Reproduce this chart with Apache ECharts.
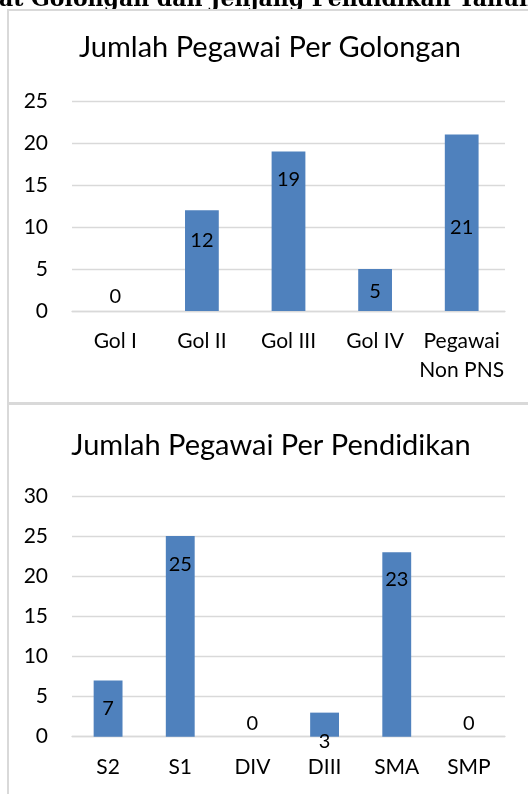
<!DOCTYPE html>
<html>
<head>
<meta charset="utf-8">
<script src="https://cdn.jsdelivr.net/npm/echarts@6/dist/echarts.min.js"></script>
<style>
html,body{margin:0;padding:0;background:#fff;}
#c{width:528px;height:794px;}
</style>
</head>
<body>
<div id="c"></div>
<script>
// ---- data ----
var headerText = 'at Golongan dan Jenjang Pendidikan Tahun';
var title1 = 'Jumlah Pegawai Per Golongan';
var categories1 = ['Gol I', 'Gol II', 'Gol III', 'Gol IV', 'Pegawai\nNon PNS'];
var values1 = [0, 12, 19, 5, 21];
var title2 = 'Jumlah Pegawai Per Pendidikan';
var categories2 = ['S2', 'S1', 'DIV', 'DIII', 'SMA', 'SMP'];
var values2 = [7, 25, 0, 3, 23, 0];
var yMax1 = 25, yMax2 = 30, yStep = 5;

// ---- label placement (style, px from bar top to label centre) ----
var labelShift1 = [-14, 30, 28, 23, 93];
var labelShift2 = [28, 28, -13, 29, 27, -13];

var FONT = 'Lato';
var BLUE = '#4f81bd';
var GRID = '#d9d9d9';

function items(vals, shifts) {
  return vals.map(function (v, i) {
    return {
      value: v,
      label: { offset: [0, shifts[i]] }
    };
  });
}

var labelBase = {
  show: true,
  position: 'insideTop',
  distance: 0,
  verticalAlign: 'middle',
  align: 'center',
  color: '#000',
  fontFamily: FONT,
  fontSize: 20
};

var chart = echarts.init(document.getElementById('c'), null, { renderer: 'canvas' });
chart.setOption({
  animation: false,
  backgroundColor: '#fff',
  graphic: [
    { type: 'text', x: -1, y: 11, style: { text: headerText, fill: '#000', font: 'bold 22px "DejaVu Serif"', textAlign: 'left', textVerticalAlign: 'bottom' } },
    { type: 'rect', shape: { x: 7, y: 9, width: 2, height: 785 }, style: { fill: GRID } },
    { type: 'rect', shape: { x: 7, y: 9, width: 521, height: 2 }, style: { fill: GRID } },
    { type: 'rect', shape: { x: 7, y: 402, width: 521, height: 3 }, style: { fill: GRID } },
    { type: 'text', x: 270, y: 48, style: { text: title1, fill: '#000', font: '29px Lato', textAlign: 'center', textVerticalAlign: 'middle' } },
    { type: 'text', x: 271, y: 446, style: { text: title2, fill: '#000', font: '29px Lato', textAlign: 'center', textVerticalAlign: 'middle' } }
  ],
  grid: [
    { left: 72, width: 433, top: 101, height: 210 },
    { left: 72, width: 433, top: 496, height: 240.7 }
  ],
  xAxis: [0, 1].map(function (i) {
    return {
      type: 'category',
      gridIndex: i,
      data: i === 0 ? categories1 : categories2,
      axisTick: { show: false },
      axisLine: { show: true, lineStyle: { color: GRID, width: 1.3 } },
      axisLabel: { color: '#000', fontFamily: FONT, fontSize: 21, lineHeight: 29, margin: 16, interval: 0 }
    };
  }),
  yAxis: [0, 1].map(function (i) {
    return {
      type: 'value',
      gridIndex: i,
      min: 0,
      max: i === 0 ? yMax1 : yMax2,
      interval: yStep,
      axisLine: { show: false },
      axisTick: { show: false },
      splitLine: { lineStyle: { color: GRID, width: 1.3 } },
      axisLabel: { color: '#000', fontFamily: FONT, fontSize: 21, margin: 24 }
    };
  }),
  series: [
    {
      type: 'bar', xAxisIndex: 0, yAxisIndex: 0,
      barWidth: '39%',
      itemStyle: { color: BLUE },
      label: labelBase,
      data: items(values1, labelShift1)
    },
    {
      type: 'bar', xAxisIndex: 1, yAxisIndex: 1,
      barWidth: '40%',
      itemStyle: { color: BLUE },
      label: labelBase,
      data: items(values2, labelShift2)
    }
  ]
});
</script>
</body>
</html>
